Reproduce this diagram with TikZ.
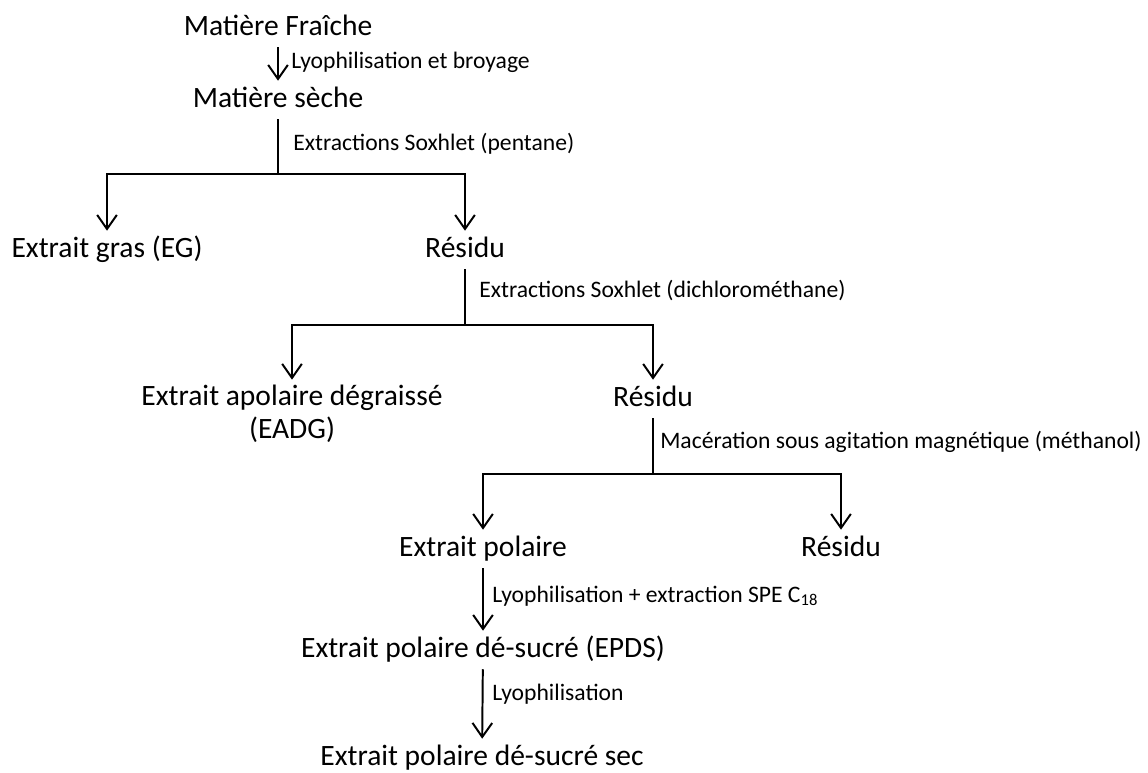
\documentclass[tikz,border=0pt]{standalone}
\usepackage{fontspec}
\setmainfont{Carlito}
\usetikzlibrary{arrows.meta}

\begin{document}
\begin{tikzpicture}[
  x=0.025cm, y=-0.025cm,
  stage/.style={font=\fontsize{21}{23}\selectfont, inner sep=0pt, text height=18.5pt, text depth=8.5pt, anchor=base, align=center},
  op/.style={font=\fontsize{16.8}{20}\selectfont, anchor=base west, inner sep=0pt},
  link/.style={line width=1.4pt},
  arr/.style={link, -{Straight Barb[length=10pt,width=14pt]}}
]
\useasboundingbox (0,0) rectangle (1148,772);
\node[stage] (fresh) at (278,35) {Matière Fraîche};
\node[stage] (dry) at (278,107) {Matière sèche};
\node[stage] (gras) at (107,257) {Extrait gras (EG)};
\node[stage] (res1) at (465,257) {Résidu};
\node[stage, text height=41.3pt] (eadg) at (292,438) {Extrait apolaire dégraissé\\(EADG)};
\node[stage] (res2) at (653,406) {Résidu};
\node[stage] (polar) at (483,556) {Extrait polaire};
\node[stage] (res3) at (841,556) {Résidu};
\node[stage] (epds) at (483,657) {Extrait polaire dé-sucré (EPDS)};
\node[stage] (dryext) at (482,765) {Extrait polaire dé-sucré sec};
% branch points
\coordinate (j1) at (278,174);
\coordinate (j2) at (465,325);
\coordinate (j3) at (653,474);
% operations
\node[op] (l1) at (291,68) {Lyophilisation et broyage};
\node[op] (l2) at (293,150) {Extractions Soxhlet (pentane)};
\node[op] (l3) at (479,297) {Extractions Soxhlet (dichlorométhane)};
\node[op] (l4) at (660,448) {Macération sous agitation magnétique (méthanol)};
\node[op] (l5) at (492,602) {Lyophilisation + extraction SPE C\textsubscript{18}};
\node[op] (l6) at (492,700) {Lyophilisation};
\draw[arr] (fresh) -- (dry);
\draw[link] (dry) -- (j1);
\draw[link] (res1) -- (j2);
\draw[link] (res2) -- (j3);
\foreach \a/\b in {j1/gras, j1/res1, j2/eadg, j2/res2, j3/polar, j3/res3}
  \draw[arr] (\a) -| (\b);
\draw[arr] (polar) -- (epds);
\draw[arr] (epds) -- (dryext);
\end{tikzpicture}
\end{document}
